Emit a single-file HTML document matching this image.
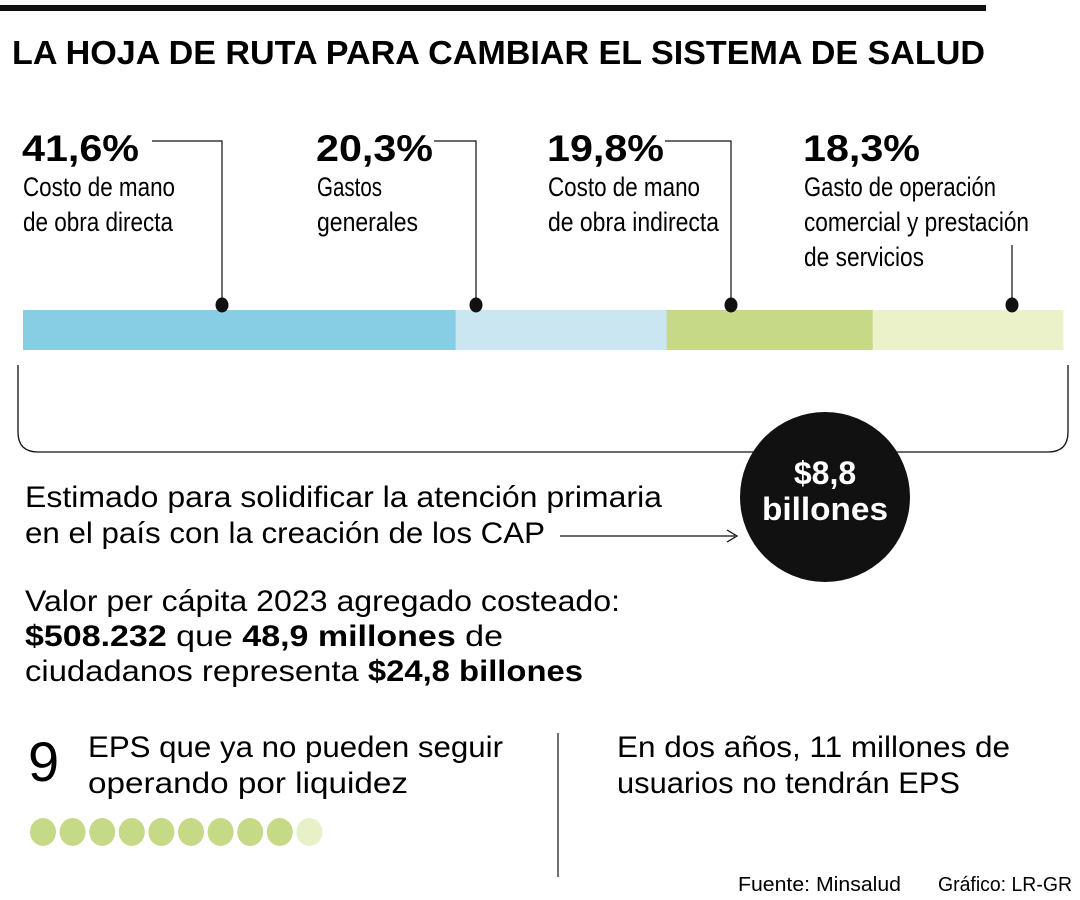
<!DOCTYPE html>
<html><head><meta charset="utf-8"><style>
body{margin:0;width:1080px;height:900px;background:#fff;overflow:hidden;font-family:"Liberation Sans",sans-serif;color:#111}
svg{position:absolute;left:0;top:0}
</style></head><body>
<svg width="1080" height="900">
<rect x="0" y="5" width="986" height="6" fill="#111"/>
<text x="12" y="64" font-size="33" font-weight="bold" textLength="973" lengthAdjust="spacingAndGlyphs">LA HOJA DE RUTA PARA CAMBIAR EL SISTEMA DE SALUD</text>
<g id="bar"></g>
<path d="M18 365 V432 Q18 452 38 452 H1048 Q1068 452 1068 432 V365" fill="none" stroke="#111" stroke-width="1.3"/>
<circle cx="825" cy="497" r="85" fill="#111"/>
<text x="825" y="484" font-size="32" font-weight="bold" fill="#fff" text-anchor="middle">$8,8</text>
<text x="825" y="520" font-size="32" font-weight="bold" fill="#fff" text-anchor="middle" textLength="126" lengthAdjust="spacingAndGlyphs">billones</text>
<g font-size="30">
<text x="25" y="507" textLength="637" lengthAdjust="spacingAndGlyphs">Estimado para solidificar la atención primaria</text>
<text x="25" y="543" textLength="520" lengthAdjust="spacingAndGlyphs">en el país con la creación de los CAP</text></g>
<path d="M560 536 H735 M727 530 L737 536 L727 542" fill="none" stroke="#111" stroke-width="1.3"/>
<g font-size="30">
<text x="25" y="611" textLength="595" lengthAdjust="spacingAndGlyphs">Valor per cápita 2023 agregado costeado:</text>
<text x="25" y="646" textLength="478" lengthAdjust="spacingAndGlyphs"><tspan font-weight="bold">$508.232</tspan> que <tspan font-weight="bold">48,9 millones</tspan> de</text>
<text x="25" y="681" textLength="558" lengthAdjust="spacingAndGlyphs">ciudadanos representa <tspan font-weight="bold">$24,8 billones</tspan></text></g>
<text x="28" y="781" font-size="56">9</text>
<g font-size="30">
<text x="88" y="757" textLength="415" lengthAdjust="spacingAndGlyphs">EPS que ya no pueden seguir</text>
<text x="88" y="793" textLength="320" lengthAdjust="spacingAndGlyphs">operando por liquidez</text></g>
<line x1="558" y1="733" x2="558" y2="877" stroke="#111" stroke-width="1.2"/>
<g font-size="30">
<text x="617" y="757" textLength="393" lengthAdjust="spacingAndGlyphs">En dos años, 11 millones de</text>
<text x="617" y="793" textLength="343" lengthAdjust="spacingAndGlyphs">usuarios no tendrán EPS</text></g>
<g id="dots"></g>
<text x="738" y="891" font-size="20" textLength="163" lengthAdjust="spacingAndGlyphs">Fuente: Minsalud</text>
<text x="938" y="891" font-size="20" textLength="134" lengthAdjust="spacingAndGlyphs">Gráfico: LR-GR</text>
</svg>
<script>
const labels=["41,6%","20,3%","19,8%","18,3%"];
const values=[41.6,20.3,19.8,18.3];
const descs=[["Costo de mano","de obra directa"],["Gastos","generales"],["Costo de mano","de obra indirecta"],["Gasto de operación","comercial y prestación","de servicios"]];
const descW=[[152,150],[65,101],[152,171],[192,225,120]];
const colors=["#87cee4","#cae6f1","#c5d986","#ebf1c8"];
const epsTotal=10, epsCount=9;
const NS="http://www.w3.org/2000/svg";
const g=document.getElementById('bar');
const x0=23,x1=1063,total=values.reduce((a,b)=>a+b,0);
const sx=v=>v/total*(x1-x0);
const labelX=[22,316,547,803];
const dotX=[222,476,731,1012];
function mk(t,a){const e=document.createElementNS(NS,t);for(const k in a)e.setAttribute(k,a[k]);return e;}
let cx=x0;
values.forEach((v,i)=>{
 const w=sx(v);
 const r=mk('rect',{x:cx,y:310,width:w+0.5,height:40,fill:colors[i]});
 
 
 g.appendChild(r);
 const p=mk('text',{x:labelX[i],y:161,'font-size':37,'font-weight':'bold',textLength:117,lengthAdjust:'spacingAndGlyphs'});p.textContent=labels[i];
 
 
 g.appendChild(p);
 descs[i].forEach((d,j)=>{const t=mk('text',{x:labelX[i]+1,y:196+j*35,'font-size':27,textLength:descW[i][j],lengthAdjust:'spacingAndGlyphs'});t.textContent=d;
 
 
 g.appendChild(t);});
 const lx=dotX[i];
 const path=i<3?`M${labelX[i]+[130,118,118][i]} 141 H${lx} V305`:`M${lx} 245 V305`;
 const l=mk('path',{d:path,fill:'none',stroke:'#111','stroke-width':1.2});
 
 
 g.appendChild(l);
 const d=mk('ellipse',{cx:lx,cy:305,rx:6.5,ry:7.5,fill:'#111'});
 
 
 g.appendChild(d);
 cx+=w;
});
const dg=document.getElementById('dots');
for(let i=0;i<epsTotal;i++){
 const c=mk('ellipse',{cx:43+i*29.6,cy:832,rx:13,ry:14,fill:i<epsCount?'#c5d986':'#e8f0c8'});
 
 
 dg.appendChild(c);
}
</script>
</body></html>
